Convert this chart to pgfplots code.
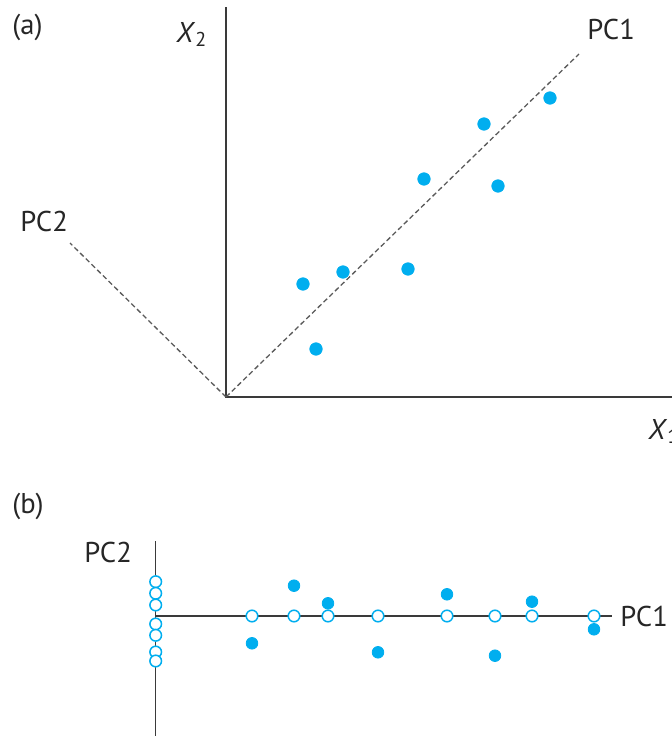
\documentclass[border=0pt]{standalone}
\usepackage{pgfplots}
\pgfplotsset{compat=1.18}
\usepackage{fontspec}
\setmainfont{PT Sans}
\definecolor{dotblue}{HTML}{00AEEF}
\definecolor{axln}{HTML}{3A3A3A}
\definecolor{dashgray}{HTML}{5A5A5A}
\tikzset{lbl/.style={inner sep=0pt, anchor=base west, text=black!85, font=\fontsize{14.3}{17}\selectfont}}

\begin{document}
\begin{tikzpicture}
\begin{axis}[
    scale only axis,
    width=336pt, height=368pt,
    xmin=0, xmax=672, ymin=0, ymax=736,
    hide axis, clip=false,
]
% ---- panel (a): original axes
\addplot[axln, line width=0.8pt, no marks] coordinates {(226,729) (226,339) (672,339)};
\addplot[dashgray, line width=0.65pt, dash pattern=on 2.5pt off 1.5pt, no marks] coordinates {(226,339) (579,682)};
\addplot[dashgray, line width=0.65pt, dash pattern=on 2.5pt off 1.5pt, no marks] coordinates {(226,339) (70,493)};
\addplot[only marks, mark=*, mark size=3.1pt, mark options={draw=dotblue, fill=dotblue}] coordinates {
    (303,452) (343,464) (408,467) (316,387)
    (424,557) (484,612) (498,550) (550,638)
};
\node[lbl] at (axis cs:12,702) {(a)};
\node[lbl] at (axis cs:176,694) {\textit{X}\textsubscript{2}};
\node[lbl] at (axis cs:587,697) {PC1};
\node[lbl] at (axis cs:20,505) {PC2};
\node[lbl] at (axis cs:648,297) {\textit{X}\textsubscript{1}};

% ---- panel (b): rotated axes
\addplot[axln, line width=0.8pt, no marks] coordinates {(155.7,195) (155.7,0)};
\addplot[axln, line width=0.8pt, no marks] coordinates {(155.7,120) (611.7,120)};
\addplot[only marks, mark=*, mark size=2.9pt, mark options={draw=dotblue, fill=dotblue}] coordinates {
    (252,92.7) (294,150.3) (328,132.7) (378,83.7)
    (447,141.7) (495,80.3) (532,134.3) (594,106.7)
};
\addplot[only marks, mark=*, mark size=2.9pt, mark options={draw=dotblue, fill=white, line width=0.75pt}] coordinates {
    (252,120) (294,120) (328,120) (378,120)
    (447,120) (495,120) (532,120) (594,120)
};
\addplot[only marks, mark=*, mark size=2.9pt, mark options={draw=dotblue, fill=white, line width=0.75pt}] coordinates {
    (155.7,154.3) (155.7,142.7) (155.7,131) (155.7,112)
    (155.7,100.7) (155.7,84) (155.7,75)
};
\node[lbl] at (axis cs:12,223) {(b)};
\node[lbl] at (axis cs:84,174) {PC2};
\node[lbl] at (axis cs:620,110) {PC1};
\end{axis}
\pgfresetboundingbox
\path[use as bounding box] (0,0) rectangle (336pt,368pt);
\end{tikzpicture}
\end{document}
